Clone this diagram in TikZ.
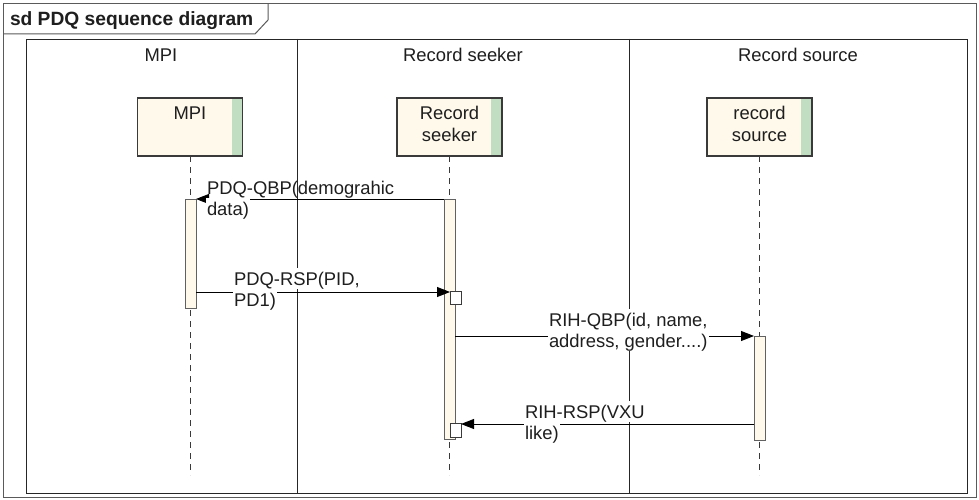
\documentclass[tikz,border=0pt]{standalone}
\usepackage{fontspec}
\setmainfont{Liberation Sans}
\usetikzlibrary{arrows.meta,calc}
\definecolor{cream}{HTML}{FFF9EC}
\definecolor{stripc}{HTML}{C2DEC2}
\definecolor{ink}{HTML}{1E1E1E}
\definecolor{framec}{HTML}{5A5A5A}
\definecolor{boxline}{HTML}{3A3A3A}
\begin{document}
\begin{tikzpicture}[x=1pt,y=-1pt,
  font=\fontsize{18.4}{21}\selectfont, text=ink,
  every node/.style={inner sep=0pt, outer sep=0pt},
  lane/.style={draw=black!85, line width=0.9pt},
  lifebox/.style={draw=boxline, line width=1.2pt, fill=cream, minimum width=105pt, minimum height=58pt, rectangle},
  actbar/.style={draw=boxline!80, line width=1pt, fill=cream, minimum width=11pt, rectangle},
  subbar/.style={draw=boxline, line width=1pt, fill=white, minimum width=11pt, minimum height=13pt, rectangle},
  lifeline/.style={draw=boxline, line width=0.9pt, dash pattern=on 6pt off 5pt},
  msg/.style={draw=black, line width=0.9pt, -{Triangle[length=13pt,width=10pt]}},
  lblf/.style={anchor=base west, fill=white, text height=17pt, text depth=4pt, inner xsep=1pt},
  lbln/.style={anchor=base west, inner xsep=1pt},
  hdr/.style={anchor=base}
]
\useasboundingbox (0,0) rectangle (979,500);
\fill[white] (0,0) rectangle (979,500);

% outer frame and title tab
\draw[framec, line width=1pt] (3,4) rectangle (976,497);
\draw[framec, line width=1pt] (3,34) -- (255,34) -- (268,20) -- (268,4);
\node[anchor=base west, font=\fontsize{19.2}{21}\selectfont\bfseries] (title) at (10,26) {sd PDQ sequence diagram};

% lanes
\draw[lane] (26,39) rectangle (967,493);
\draw[lane] (297,39) -- (297,493);
\draw[lane] (629,39) -- (629,493);
\node[hdr] (h1) at (161,62) {MPI};
\node[hdr] (h2) at (463,62) {Record seeker};
\node[hdr] (h3) at (798,62) {Record source};

% lifeline boxes
\foreach \n/\x in {mpi/190, seek/449.5, src/759.5}{
  \node[lifebox] (\n) at (\x,127) {};
  \fill[stripc] ($(\n.north east)+(-11,1)$) rectangle ($(\n.south east)+(-1,-1)$);
  \draw[boxline, line width=1.2pt] (\n.north west) rectangle (\n.south east);
}
\node[hdr] (mpit) at (190,120) {MPI};
\node[hdr] (seekt1) at (449.5,120) {Record};
\node[hdr] (seekt2) at (449.5,141) {seeker};
\node[hdr] (srct1) at (759.5,120) {record};
\node[hdr] (srct2) at (759.5,141) {source};

% lifelines
\coordinate (mpiend) at (190,475);
\coordinate (seekend) at (449.5,475);
\coordinate (srcend) at (759.5,475);
\draw[lifeline] (mpi.south) -- (mpiend);
\draw[lifeline] (seek.south) -- (seekend);
\draw[lifeline] (src.south) -- (srcend);

% activation bars
\node[actbar, minimum height=109pt] (mpib) at (190.5,253.5) {};
\node[actbar, minimum height=240pt] (seekb) at (449.5,319) {};
\node[subbar] (sb1) at (455.5,297.5) {};
\node[subbar, minimum height=14pt] (sb2) at (455.5,430) {};
\node[actbar, minimum height=104pt] (srcb) at (759.5,388) {};

% messages
\draw[msg] (seekb.north west) -- (mpib.north east);
\node[lblf] (m1b) at (206,215) {data)};
\node[lbln] (m1a) at (206,194) {PDQ-QBP(demograhic};

\draw[msg] ($(mpib.east |- sb1.north)+(0,1)$) -- ($(sb1.north west)+(0,1)$);
\node[lblf] (m2b) at (233,306) {PD1)};
\node[lblf] (m2a) at (233,285) {PDQ-RSP(PID,};

\draw[msg] (seekb.east |- srcb.north) -- (srcb.north west);
\node[lblf] (m3b) at (548,347) {address, gender....)};
\node[lblf] (m3a) at (548,326) {RIH-QBP(id, name,};

\draw[msg] ($(srcb.west |- sb2.north)+(0,1)$) -- ($(sb2.north east)+(0,1)$);
\node[lblf] (m4b) at (524,439) {like)};
\node[lblf] (m4a) at (524,418) {RIH-RSP(VXU};
\end{tikzpicture}
\end{document}
